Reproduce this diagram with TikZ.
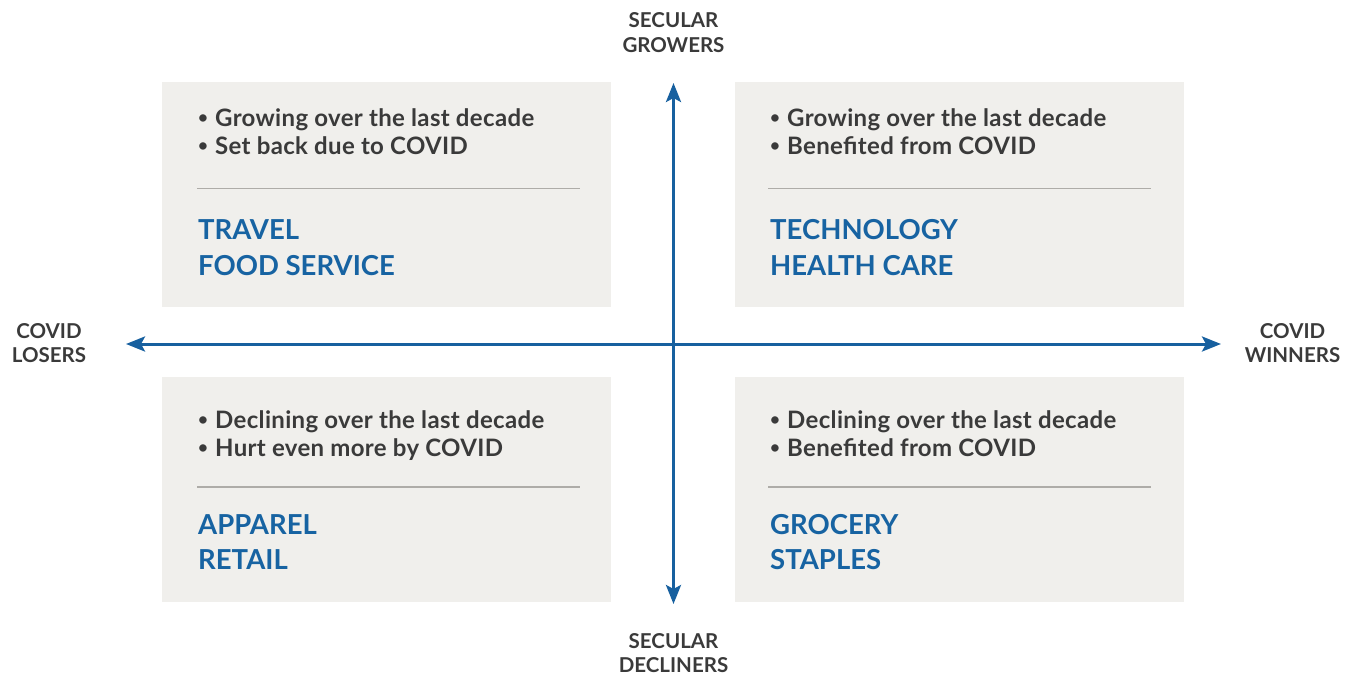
\documentclass[tikz,border=0pt]{standalone}
\usepackage{fontspec}
\setmainfont{Lato}
\usetikzlibrary{arrows.meta}
\definecolor{axisblue}{HTML}{17609F}
\definecolor{labelblue}{HTML}{1763A2}
\definecolor{boxgray}{HTML}{F0EFEC}
\definecolor{textgray}{HTML}{3A3A3A}
\definecolor{rulegray}{HTML}{AEACA8}
\newcommand\mybul{\makebox[17pt][l]{\raisebox{2.8pt}{\fontsize{17}{17}\selectfont\textbullet}}}
\tikzset{
  quad/.style={draw=none,fill=boxgray,minimum width=449pt,minimum height=225pt,inner sep=0pt,anchor=north west},
  bul/.style={anchor=base west,inner sep=0pt,text=textgray,font=\fontsize{24}{28}\selectfont\bfseries\addfontfeatures{LetterSpace=1.4}},
  cat/.style={anchor=base west,inner sep=0pt,text=labelblue,font=\fontsize{27.5}{34}\selectfont\bfseries},
  axlab/.style={anchor=base,inner sep=0pt,text=textgray,font=\fontsize{20.5}{24}\selectfont\bfseries},
  sep/.style={draw=rulegray,line width=1.4pt},
  axis/.style={draw=axisblue,line width=3pt,{Stealth[length=19pt,width=15pt,inset=4pt]}-{Stealth[length=19pt,width=15pt,inset=4pt]}}
}
\begin{document}
\begin{tikzpicture}[x=1pt,y=-1pt]
\useasboundingbox (0,0) rectangle (1357,675);
% quadrant boxes
\node[quad] (tl) at (162,82) {};
\node[quad] (tr) at (735,82) {};
\node[quad] (bl) at (162,377) {};
\node[quad] (br) at (735,377) {};
% axes
\coordinate (top) at (673.5,83);
\coordinate (bot) at (673.5,604);
\coordinate (lft) at (126,344);
\coordinate (rgt) at (1221,344);
\draw[axis] (bot) -- (top);
\draw[axis] (lft) -- (rgt);
% top-left
\node[bul] (tl1) at (198,126) {\mybul Growing over the last decade};
\node[bul] (tl2) at (198,154) {\mybul Set back due to COVID};
\coordinate (tlsa) at (197,188.5);
\coordinate (tlsb) at (580,188.5);
\draw[sep] (tlsa) -- (tlsb);
\node[cat] (tl3) at (198,239) {TRAVEL};
\node[cat] (tl4) at (198,275) {FOOD SERVICE};
% top-right
\node[bul] (tr1) at (770,126) {\mybul Growing over the last decade};
\node[bul] (tr2) at (770,154) {\mybul Benefited from COVID};
\coordinate (trsa) at (768,188.5);
\coordinate (trsb) at (1151,188.5);
\draw[sep] (trsa) -- (trsb);
\node[cat] (tr3) at (770,239) {TECHNOLOGY};
\node[cat] (tr4) at (770,275) {HEALTH CARE};
% bottom-left
\node[bul] (bl1) at (198,428) {\mybul Declining over the last decade};
\node[bul] (bl2) at (198,456) {\mybul Hurt even more by COVID};
\coordinate (blsa) at (197,487);
\coordinate (blsb) at (580,487);
\draw[sep] (blsa) -- (blsb);
\node[cat] (bl3) at (198,534) {APPAREL};
\node[cat] (bl4) at (198,569) {RETAIL};
% bottom-right
\node[bul] (br1) at (770,428) {\mybul Declining over the last decade};
\node[bul] (br2) at (770,456) {\mybul Benefited from COVID};
\coordinate (brsa) at (768,487);
\coordinate (brsb) at (1151,487);
\draw[sep] (brsa) -- (brsb);
\node[cat] (br3) at (770,534) {GROCERY};
\node[cat] (br4) at (770,569) {STAPLES};
% axis labels
\node[axlab] (sg1) at (673.5,27.5) {SECULAR};
\node[axlab] (sg2) at (673.5,52) {GROWERS};
\node[axlab] (sd1) at (673.5,648) {SECULAR};
\node[axlab] (sd2) at (673.5,672) {DECLINERS};
\node[axlab] (cl1) at (49,338) {COVID};
\node[axlab] (cl2) at (49,362.5) {LOSERS};
\node[axlab] (cw1) at (1292.5,338) {COVID};
\node[axlab] (cw2) at (1292.5,362.5) {WINNERS};
\end{tikzpicture}
\end{document}
